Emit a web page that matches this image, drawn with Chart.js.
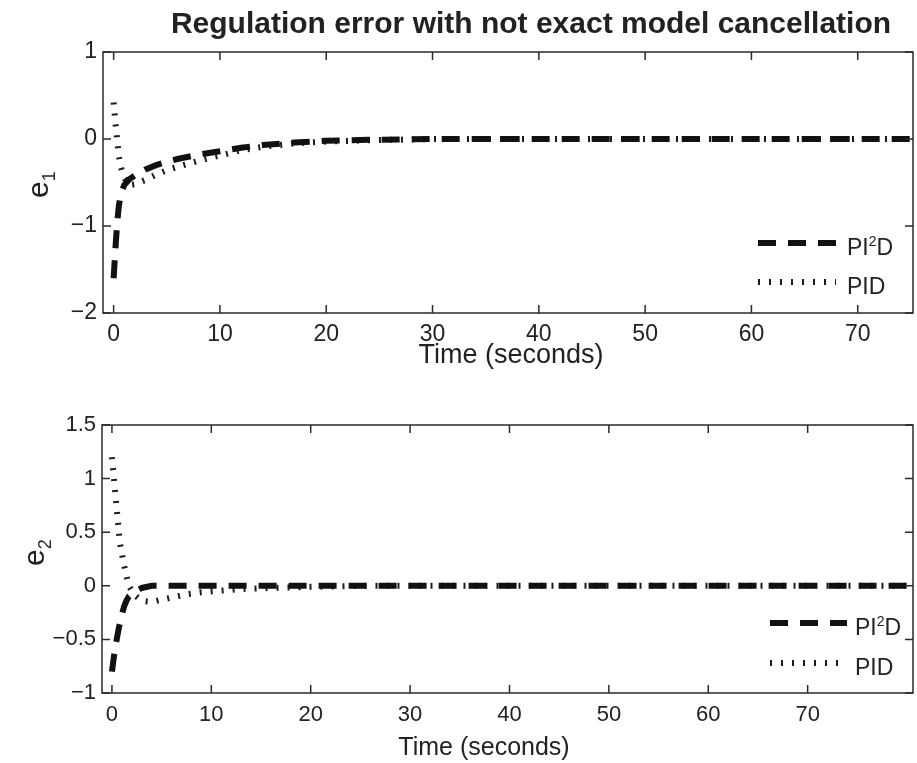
<!DOCTYPE html>
<html>
<head>
<meta charset="utf-8">
<script src="https://cdn.jsdelivr.net/npm/chart.js@4.4.1/dist/chart.umd.min.js"></script>
<style>
  html, body { margin: 0; padding: 0; background: #fff; }
  #wrap { position: relative; width: 917px; height: 763px; }
  canvas { position: absolute; left: 0; }
</style>
</head>
<body>
<div id="wrap">
  <canvas id="chartE1" width="917" height="380" style="top:0"></canvas>
  <canvas id="chartE2" width="917" height="383" style="top:380px"></canvas>
</div>
<script>
// values
const timeE1 = [0, 0.1, 0.2, 0.3, 0.4, 0.5, 0.7, 1, 1.5, 2, 3, 4, 5, 6, 8, 10, 12, 14, 17, 20, 24, 30, 40, 50, 60, 70, 76];
const pi2dE1 = [-1.6, -1.4, -1.2, -1.03, -0.88, -0.76, -0.62, -0.53, -0.46, -0.42, -0.35, -0.3, -0.26, -0.23, -0.18, -0.14, -0.1, -0.07, -0.04, -0.02, -0.01, 0, 0, 0, 0, 0, 0];
const pidE1 = [0.42, 0.28, 0.15, 0.03, -0.09, -0.2, -0.33, -0.45, -0.53, -0.52, -0.47, -0.41, -0.36, -0.32, -0.25, -0.19, -0.13, -0.09, -0.05, -0.03, -0.015, 0, 0, 0, 0, 0, 0];

const timeE2 = [0, 0.1, 0.2, 0.3, 0.4, 0.5, 0.6, 0.7, 0.8, 1, 1.2, 1.45, 1.7, 2.2, 3, 4, 5, 6, 7.5, 9, 11, 13, 16, 20, 25, 30, 40, 50, 60, 70, 82];
const pi2dE2 = [-0.8, -0.73, -0.66, -0.6, -0.54, -0.49, -0.44, -0.39, -0.35, -0.27, -0.2, -0.14, -0.1, -0.06, -0.02, 0, 0, 0, 0, 0, 0, 0, 0, 0, 0, 0, 0, 0, 0, 0, 0];
const pidE2 = [1.2, 1.1, 1.0, 0.9, 0.8, 0.7, 0.6, 0.5, 0.4, 0.3, 0.2, 0.1, 0.0, -0.08, -0.14, -0.15, -0.13, -0.11, -0.08, -0.06, -0.045, -0.03, -0.02, -0.01, 0, 0, 0, 0, 0, 0, 0];

const seriesLabels = ['PI²D', 'PID'];
const xTicks = [0, 10, 20, 30, 40, 50, 60, 70];
const yTicksE1 = [-2, -1, 0, 1];
const yTicksE2 = [-1, -0.5, 0, 0.5, 1, 1.5];

const FONT = '"Liberation Sans", Arial, Helvetica, sans-serif';
const INK = '#222';

function fmt(v) {
  return String(v).replace('-', '\u2212');
}

// text with a superscript "²" drawn smaller and raised
function drawSupText(ctx, text, x, y, size) {
  const parts = text.split('²');
  let cx = x;
  parts.forEach((p, i) => {
    ctx.font = size + 'px ' + FONT;
    ctx.fillText(p, cx, y);
    cx += ctx.measureText(p).width;
    if (i < parts.length - 1) {
      const s = Math.round(size * 0.62);
      ctx.font = s + 'px ' + FONT;
      ctx.fillText('2', cx, y - size * 0.38);
      cx += ctx.measureText('2').width;
    }
  });
}

const matlabBox = {
  id: 'matlabBox',
  afterDatasetsDraw(chart, args, o) {
    const ctx = chart.ctx;
    const a = chart.chartArea;
    const x = chart.scales.x, y = chart.scales.y;
    ctx.save();

    // box and inward ticks
    ctx.strokeStyle = '#2a2a2a';
    ctx.lineWidth = 1.5;
    ctx.strokeRect(a.left, a.top, a.right - a.left, a.bottom - a.top);
    ctx.beginPath();
    x.ticks.forEach(t => {
      const px = x.getPixelForValue(t.value);
      ctx.moveTo(px, a.bottom); ctx.lineTo(px, a.bottom - o.tick);
      ctx.moveTo(px, a.top); ctx.lineTo(px, a.top + o.tick);
    });
    y.ticks.forEach(t => {
      const py = y.getPixelForValue(t.value);
      ctx.moveTo(a.left, py); ctx.lineTo(a.left + o.tick, py);
      ctx.moveTo(a.right, py); ctx.lineTo(a.right - o.tick, py);
    });
    ctx.stroke();

    // legend
    ctx.fillStyle = INK;
    ctx.textAlign = 'left';
    ctx.textBaseline = 'alphabetic';
    chart.data.datasets.forEach((ds, i) => {
      const ly = a.bottom - o.legend.rows[i];
      const lx = a.right - o.legend.right;
      ctx.save();
      ctx.strokeStyle = ds.borderColor;
      ctx.lineWidth = ds.borderWidth;
      ctx.setLineDash(ds.borderDash);
      ctx.beginPath();
      ctx.moveTo(lx, ly);
      ctx.lineTo(lx + o.legend.len, ly);
      ctx.stroke();
      ctx.restore();
      drawSupText(ctx, ds.label, lx + o.legend.textGap, ly + o.legend.base, o.legend.size);
    });

    // x label
    ctx.textAlign = 'center';
    ctx.font = o.xLabel.size + 'px ' + FONT;
    ctx.fillText(o.xLabel.text, o.xLabel.x, o.xLabel.y);

    // y label with subscript
    ctx.save();
    ctx.translate(o.yLabel.x, o.yLabel.y);
    ctx.rotate(-Math.PI / 2);
    ctx.textAlign = 'left';
    ctx.font = o.yLabel.size + 'px ' + FONT;
    ctx.fillText(o.yLabel.text, 0, 0);
    const w = ctx.measureText(o.yLabel.text).width;
    ctx.font = o.yLabel.subSize + 'px ' + FONT;
    ctx.fillText(o.yLabel.sub, w, o.yLabel.subDrop);
    ctx.restore();

    // title
    if (o.title) {
      ctx.textAlign = 'center';
      ctx.font = 'bold ' + o.title.size + 'px ' + FONT;
      ctx.fillText(o.title.text, o.title.x, o.title.y);
    }
    ctx.restore();
  }
};

function makeChart(id, time, a, b, cfg) {
  return new Chart(document.getElementById(id), {
    type: 'line',
    data: {
      datasets: [
        {
          label: seriesLabels[0],
          data: time.map((t, i) => ({ x: t, y: a[i] })),
          borderColor: '#111',
          borderWidth: 6,
          borderDash: [18, 12],
          clip: 0
        },
        {
          label: seriesLabels[1],
          data: time.map((t, i) => ({ x: t, y: b[i] })),
          borderColor: '#1c1c1c',
          borderWidth: 6,
          borderDash: [2, 9],
          clip: 0
        }
      ]
    },
    options: {
      responsive: false,
      animation: false,
      devicePixelRatio: 1,
      layout: { padding: cfg.padding },
      elements: {
        point: { radius: 0 },
        line: { tension: 0, borderCapStyle: 'butt', fill: false }
      },
      plugins: {
        legend: { display: false },
        tooltip: { enabled: false },
        matlabBox: cfg.box
      },
      scales: {
        x: {
          type: 'linear',
          min: cfg.xMin,
          max: cfg.xMax,
          grid: { display: false, drawTicks: false },
          border: { display: false },
          ticks: {
            autoSkip: false, maxRotation: 0, padding: cfg.xPad,
            color: INK, font: { family: FONT, size: cfg.tickSize },
            callback: v => fmt(v)
          },
          afterBuildTicks: s => { s.ticks = xTicks.map(v => ({ value: v })); },
          afterFit: s => { s.height = cfg.xHeight; }
        },
        y: {
          type: 'linear',
          min: cfg.yMin,
          max: cfg.yMax,
          grid: { display: false, drawTicks: false },
          border: { display: false },
          ticks: {
            autoSkip: false, padding: 6,
            color: INK, font: { family: FONT, size: cfg.tickSize },
            callback: v => fmt(v)
          },
          afterBuildTicks: s => { s.ticks = cfg.yTicks.map(v => ({ value: v })); },
          afterFit: s => { s.width = cfg.yWidth; }
        }
      }
    },
    plugins: [matlabBox]
  });
}

makeChart('chartE1', timeE1, pi2dE1, pidE1, {
  padding: { left: 0, right: 4, top: 52, bottom: 0 },
  xMin: -1, xMax: 75.2, yMin: -2, yMax: 1,
  yTicks: yTicksE1, tickSize: 23, xPad: 8, xHeight: 67, yWidth: 103,
  box: {
    tick: 8,
    legend: { right: 155, rows: [70, 31], len: 78, textGap: 89, base: 12, size: 23 },
    xLabel: { text: 'Time (seconds)', x: 511, y: 363, size: 27 },
    yLabel: { text: 'e', sub: '1', x: 48, y: 198, size: 30, subSize: 18, subDrop: 7 },
    title: { text: 'Regulation error with not exact model cancellation', x: 531, y: 33, size: 30 }
  }
});

makeChart('chartE2', timeE2, pi2dE2, pidE2, {
  padding: { left: 0, right: 4, top: 45, bottom: 0 },
  xMin: -1, xMax: 80.6, yMin: -1, yMax: 1.5,
  yTicks: yTicksE2, tickSize: 22, xPad: 9, xHeight: 70, yWidth: 102,
  box: {
    tick: 8,
    legend: { right: 143, rows: [70, 30], len: 77, textGap: 85, base: 12, size: 23 },
    xLabel: { text: 'Time (seconds)', x: 484, y: 375, size: 25 },
    yLabel: { text: 'e', sub: '2', x: 44, y: 186, size: 30, subSize: 18, subDrop: 7 }
  }
});
</script>
</body>
</html>
